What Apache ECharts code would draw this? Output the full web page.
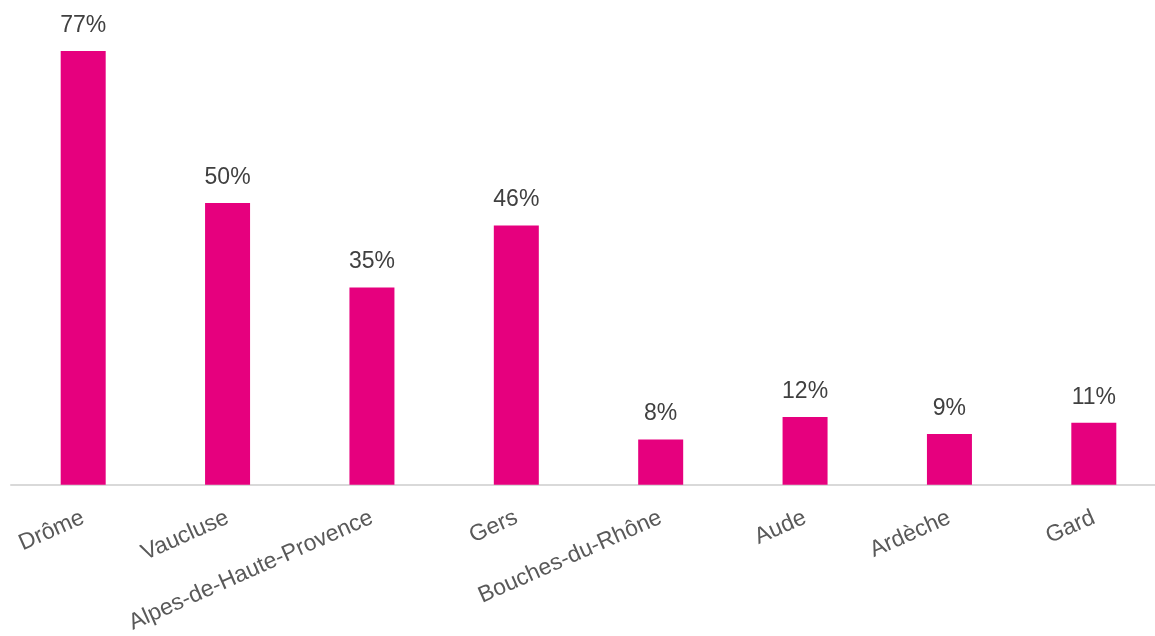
<!DOCTYPE html>
<html>
<head>
<meta charset="utf-8">
<script src="https://cdn.jsdelivr.net/npm/echarts@6/dist/echarts.min.js"></script>
<style>
html,body{margin:0;padding:0;background:#fff;overflow:hidden;width:1155px;height:636px;}
#chart{width:1166px;height:636px;}
</style>
</head>
<body>
<div id="chart"></div>
<script>
const categories = ["Drôme","Vaucluse","Alpes-de-Haute-Provence","Gers","Bouches-du-Rhône","Aude","Ardèche","Gard"];
const values = [77, 50, 35, 46, 8, 12, 9, 11];

const chart = echarts.init(document.getElementById('chart'), null, {renderer:'canvas'});
chart.setOption({
  animation: false,
  grid: { left: 11, top: 34, right: 0, height: 451, containLabel: false },
  xAxis: {
    type: 'category',
    data: categories,
    axisLine: { show: true, lineStyle: { color: '#d9d9d9', width: 2 } },
    axisTick: { show: false },
    axisLabel: {
      rotate: 24,
      interval: 0,
      margin: 32,
      color: '#595959',
      fontFamily: 'Liberation Sans, Arial, sans-serif',
      fontSize: 23
    }
  },
  yAxis: {
    type: 'value',
    min: 0,
    max: 80,
    show: false,
    splitLine: { show: false }
  },
  series: [{
    type: 'bar',
    data: values,
    barWidth: 45,
    itemStyle: { color: '#E6007E' },
    label: {
      show: true,
      position: 'top',
      distance: 14,
      formatter: p => p.value + '%',
      color: '#404040',
      fontFamily: 'Liberation Sans, Arial, sans-serif',
      fontSize: 23
    }
  }]
});
</script>
</body>
</html>
